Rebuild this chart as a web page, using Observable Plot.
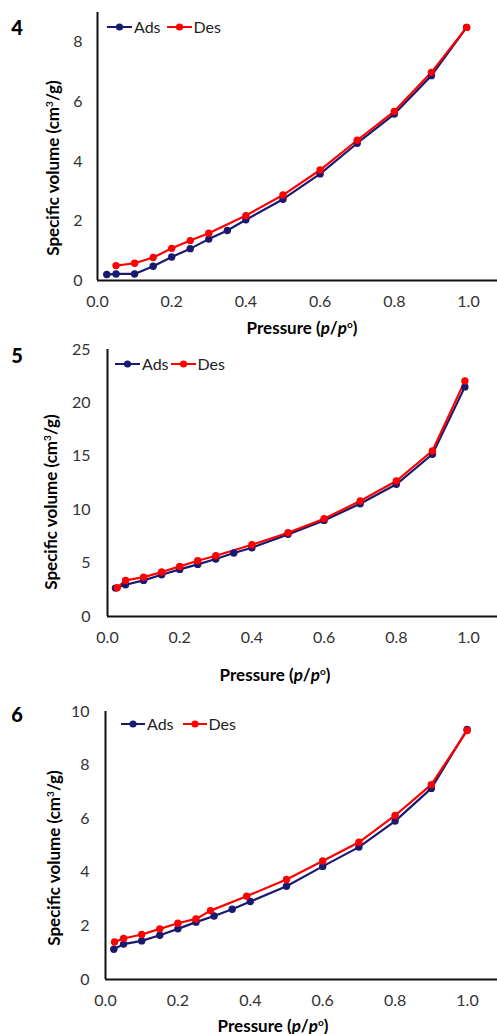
<!DOCTYPE html>
<html><head><meta charset="utf-8">
<script src="https://cdn.jsdelivr.net/npm/d3@7"></script>
<script src="https://cdn.jsdelivr.net/npm/@observablehq/plot@0.6"></script>
<style>
html,body{margin:0;padding:0;background:#fff;}
#wrap{position:relative;width:497px;height:1034px;overflow:hidden;font-family:Lato,"Open Sans",sans-serif;}
.svgbox{position:absolute;left:0;}
.lbl{position:absolute;font-weight:900;font-size:20px;color:#000;line-height:1;transform:translate(-50%,-50%);}
.xt{position:absolute;font-weight:bold;font-size:17px;color:#000;white-space:nowrap;transform:translate(-50%,-50%);line-height:1;}
.yt{position:absolute;font-weight:bold;font-size:17px;color:#000;white-space:nowrap;transform:translate(-50%,-50%) rotate(-90deg);line-height:1;}
.leg{position:absolute;display:flex;align-items:center;font-size:16px;color:#222;transform:translateY(-50%);line-height:1;}
.leg svg{display:block;}
</style>
</head><body><div id="wrap"></div>
<script>
// ---------- DATA ----------
const seriesNames = ["Ads", "Des"];
const xTicks = [0, 0.2, 0.4, 0.6, 0.8, 1.0];

// Panel 4
const p4AdsP = [0.025, 0.05, 0.10, 0.15, 0.20, 0.25, 0.30, 0.35, 0.40, 0.50, 0.60, 0.70, 0.80, 0.90, 0.995];
const p4AdsV = [0.20, 0.22, 0.22, 0.48, 0.79, 1.07, 1.39, 1.68, 2.04, 2.73, 3.58, 4.61, 5.59, 6.88, 8.50];
const p4DesP = [0.05, 0.10, 0.15, 0.20, 0.25, 0.30, 0.40, 0.50, 0.60, 0.70, 0.80, 0.90, 0.995];
const p4DesV = [0.50, 0.58, 0.77, 1.08, 1.34, 1.59, 2.18, 2.87, 3.71, 4.71, 5.68, 6.99, 8.50];
const p4YTicks = [0, 2, 4, 6, 8];

// Panel 5
const p5AdsP = [0.022, 0.05, 0.10, 0.15, 0.20, 0.25, 0.30, 0.35, 0.40, 0.50, 0.60, 0.70, 0.80, 0.90, 0.99];
const p5AdsV = [2.66, 2.97, 3.38, 3.91, 4.41, 4.88, 5.38, 5.94, 6.44, 7.69, 9.00, 10.56, 12.38, 15.19, 21.5];
const p5DesP = [0.027, 0.05, 0.10, 0.15, 0.20, 0.25, 0.30, 0.40, 0.50, 0.60, 0.70, 0.80, 0.90, 0.99];
const p5DesV = [2.69, 3.38, 3.69, 4.16, 4.69, 5.22, 5.69, 6.72, 7.84, 9.16, 10.81, 12.69, 15.5, 22.06];
const p5YTicks = [0, 5, 10, 15, 20, 25];

// Panel 6
const p6AdsP = [0.023, 0.05, 0.10, 0.15, 0.20, 0.25, 0.30, 0.35, 0.40, 0.50, 0.60, 0.70, 0.80, 0.90, 0.999];
const p6AdsV = [1.13, 1.32, 1.44, 1.65, 1.89, 2.14, 2.37, 2.62, 2.91, 3.48, 4.22, 4.94, 5.91, 7.13, 9.33];
const p6DesP = [0.025, 0.05, 0.10, 0.15, 0.20, 0.25, 0.29, 0.39, 0.50, 0.60, 0.70, 0.80, 0.90, 0.999];
const p6DesV = [1.40, 1.53, 1.68, 1.89, 2.10, 2.26, 2.57, 3.11, 3.73, 4.42, 5.12, 6.12, 7.27, 9.29];
const p6YTicks = [0, 2, 4, 6, 8, 10];

const colors = {Ads: "#191970", Des: "#ff0000"};

// ---------- DRAW ----------
const wrap = document.getElementById("wrap");
const W = 497;

function rows(name, ps, vs) { return ps.map((p, i) => ({series: name, p, v: vs[i]})); }

function panel(cfg) {
  const data = [...rows("Ads", cfg.adsP, cfg.adsV), ...rows("Des", cfg.desP, cfg.desV)];
  const chart = Plot.plot({
    width: W, height: cfg.height,
    marginLeft: cfg.ml, marginRight: 0, marginTop: cfg.mt, marginBottom: cfg.mb,
    style: {fontFamily: "Lato, 'Open Sans', sans-serif", fontSize: "16px", color: "#333", background: "#fff"},
    x: {domain: [0, cfg.xmax]},
    y: {domain: [0, cfg.ymax]},
    color: {domain: seriesNames, range: seriesNames.map(s => colors[s])},
    marks: [
      Plot.axisX({ticks: xTicks, tickSize: 0, tickPadding: cfg.xpad, tickFormat: d3.format(".1f"), label: null}),
      Plot.axisY({ticks: cfg.yTicks, tickSize: 0, tickPadding: cfg.ypad, label: null}),
      Plot.line(data, {x: "p", y: "v", z: "series", stroke: "series", strokeWidth: 2.2}),
      Plot.dot(data, {x: "p", y: "v", fill: "series", r: 3.7, stroke: "none"}),
      Plot.ruleX([0], {stroke: "#111", strokeWidth: 2}),
      Plot.ruleY([0], {stroke: "#111", strokeWidth: 2})
    ]
  });
  const box = document.createElement("div");
  box.className = "svgbox";
  box.style.top = cfg.top + "px";
  box.appendChild(chart);
  wrap.appendChild(box);

  const add = (cls, html, x, y) => {
    const d = document.createElement("div");
    d.className = cls; d.innerHTML = html;
    d.style.left = x + "px"; d.style.top = y + "px";
    wrap.appendChild(d);
    return d;
  };
  add("lbl", cfg.label, 17, cfg.labelY);
  add("yt", "Specific volume (cm<sup style='font-size:10px;vertical-align:6px'>3</sup>/g)", cfg.ytX, cfg.ytY);
  add("xt", "Pressure (<i>p</i>/<i>p</i><sup style='font-size:10px;vertical-align:6px'>o</sup>)", cfg.xtX, cfg.xtY);

  const sw = (c, w) => `<svg width="${w}" height="10"><line x1="0" x2="${w}" y1="5" y2="5" stroke="${c}" stroke-width="2"/><circle cx="${w/2}" cy="5" r="3.6" fill="${c}"/></svg>`;
  const leg = add("leg", "", cfg.legX, cfg.legY);
  leg.innerHTML = `${sw(colors.Ads, cfg.swW)}<span style="margin:0 ${cfg.gap}px 0 2px">Ads</span>${sw(colors.Des, cfg.swW)}<span style="margin-left:2px">Des</span>`;
}

panel({top: 0, height: 340, ml: 97, mt: 12, mb: 60, xmax: (W - 97) / 371, ymax: 9, yTicks: p4YTicks,
  adsP: p4AdsP, adsV: p4AdsV, desP: p4DesP, desV: p4DesV, xpad: 15, ypad: 15,
  label: "4", labelY: 27, ytX: 52, ytY: 168, xtX: 302, xtY: 327, legX: 107, legY: 27, swW: 25, gap: 6});

panel({top: 340, height: 350, ml: 107, mt: 9, mb: 74, xmax: (W - 107) / 361, ymax: 25, yTicks: p5YTicks,
  adsP: p5AdsP, adsV: p5AdsV, desP: p5DesP, desV: p5DesV, xpad: 15, ypad: 17,
  label: "5", labelY: 355, ytX: 50, ytY: 502, xtX: 275, xtY: 674, legX: 115, legY: 364, swW: 25, gap: 2});

panel({top: 690, height: 344, ml: 105, mt: 21, mb: 55, xmax: (W - 105) / 362, ymax: 10, yTicks: p6YTicks,
  adsP: p6AdsP, adsV: p6AdsV, desP: p6DesP, desV: p6DesV, xpad: 15, ypad: 16,
  label: "6", labelY: 714, ytX: 53, ytY: 858, xtX: 273, xtY: 1025, legX: 121, legY: 724, swW: 24, gap: 9});
</script>
</body></html>
